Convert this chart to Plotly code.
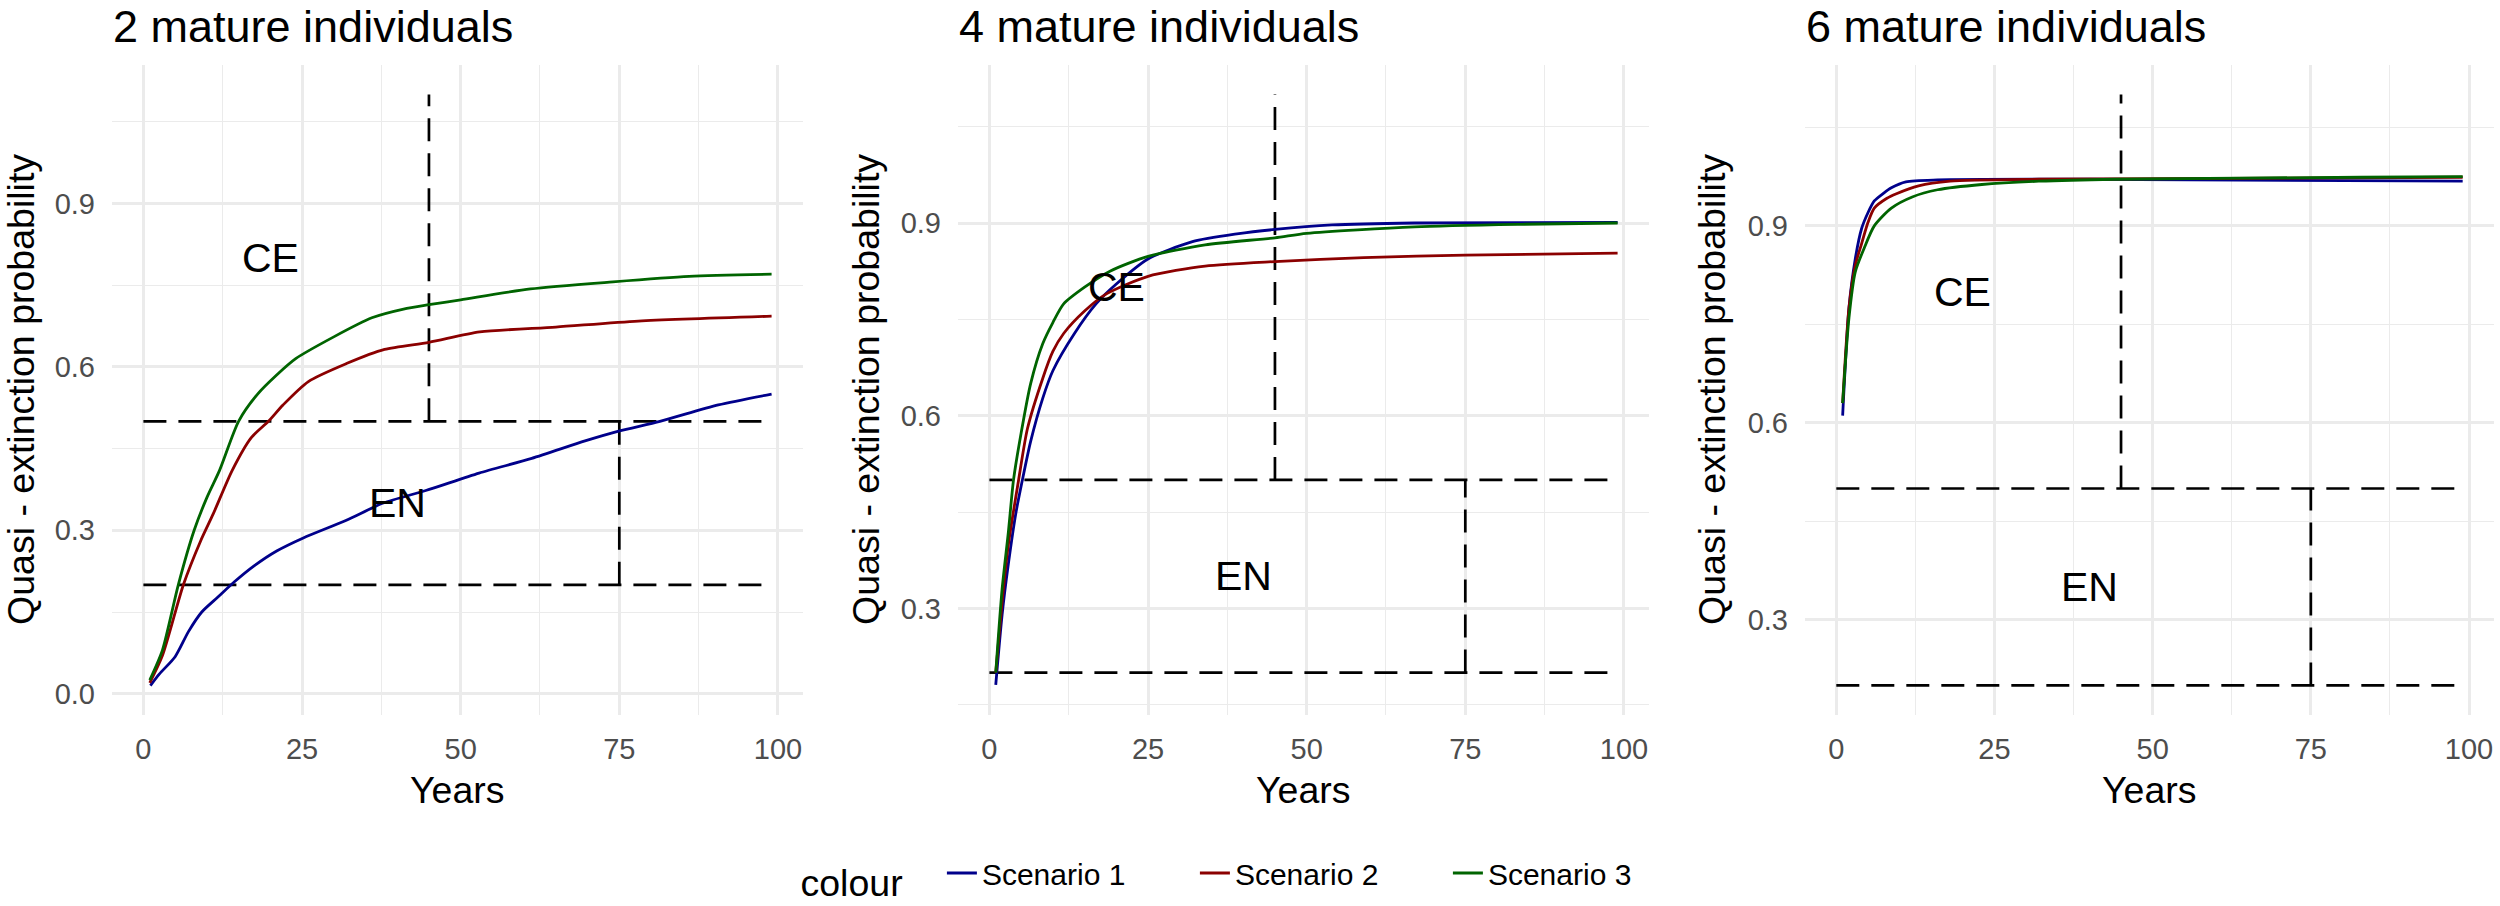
import plotly.graph_objects as go

# panel titles and series names
panels = ["2 mature individuals", "4 mature individuals", "6 mature individuals"]
scenarios = ["Scenario 1", "Scenario 2", "Scenario 3"]
colours = ["#00008B", "#8B0000", "#006400"]

# 2 mature individuals
p1_s1_x = [1.1, 2.5, 5, 7.1, 9.2, 11.7, 14.3, 17.6, 21, 25.2, 31.9, 37.8, 44.5, 52.9, 61.2, 69.6, 74.9, 81.4, 90.6, 99]
p1_s1_y = [0.015, 0.036, 0.068, 0.114, 0.15, 0.177, 0.205, 0.236, 0.262, 0.286, 0.318, 0.35, 0.373, 0.405, 0.432, 0.464, 0.482, 0.5, 0.53, 0.55]
p1_s2_x = [1, 3, 6.3, 9, 11, 14, 17, 19.7, 22, 26, 32, 38, 45, 53, 65, 78, 99]
p1_s2_y = [0.02, 0.07, 0.2, 0.28, 0.33, 0.41, 0.47, 0.5, 0.53, 0.573, 0.606, 0.632, 0.645, 0.664, 0.673, 0.684, 0.693]
p1_s3_x = [1, 3, 5.5, 8, 10, 12, 15, 18, 21, 24, 30, 36, 41, 45, 50, 61, 74, 86, 99]
p1_s3_y = [0.025, 0.08, 0.2, 0.3, 0.36, 0.41, 0.5, 0.55, 0.585, 0.615, 0.655, 0.69, 0.706, 0.714, 0.723, 0.743, 0.756, 0.766, 0.77]

# 4 mature individuals
p2_s1_x = [1, 2, 3, 4.2, 5.2, 6.5, 8.4, 10, 13.4, 16.8, 20, 25, 32, 39, 45, 54, 67, 99]
p2_s1_y = [0.181, 0.29, 0.37, 0.45, 0.5, 0.56, 0.627, 0.67, 0.728, 0.774, 0.805, 0.844, 0.871, 0.883, 0.89, 0.897, 0.9, 0.901]
p2_s2_x = [1, 2, 3, 4.6, 6, 8.4, 10, 11.7, 15, 18.5, 25, 34, 45, 59, 75, 99]
p2_s2_y = [0.2, 0.31, 0.4, 0.5, 0.58, 0.658, 0.7, 0.728, 0.763, 0.79, 0.817, 0.833, 0.84, 0.846, 0.85, 0.853]
p2_s3_x = [1, 2, 3, 3.8, 5, 6.5, 8.4, 10, 11.7, 15, 19, 25, 34, 45, 50, 67, 84, 99]
p2_s3_y = [0.2, 0.33, 0.42, 0.5, 0.573, 0.65, 0.712, 0.745, 0.774, 0.8, 0.825, 0.848, 0.866, 0.877, 0.884, 0.894, 0.898, 0.9]

# 6 mature individuals
p3_s1_x = [1, 2, 3, 4, 5, 6, 7.5, 8.7, 11, 16, 40, 99]
p3_s1_y = [0.611, 0.775, 0.85, 0.896, 0.92, 0.938, 0.95, 0.958, 0.967, 0.97, 0.971, 0.968]
p3_s2_x = [1, 2, 3, 4, 5, 6, 8, 9.5, 13, 18, 32, 99]
p3_s2_y = [0.63, 0.775, 0.84, 0.873, 0.905, 0.927, 0.942, 0.949, 0.961, 0.968, 0.971, 0.974]
p3_s3_x = [1, 2, 3, 4.4, 6, 8.7, 12, 16, 23, 32, 44, 83, 99]
p3_s3_y = [0.63, 0.76, 0.83, 0.866, 0.9, 0.927, 0.944, 0.955, 0.963, 0.968, 0.971, 0.974, 0.975]

curves = [
    [(p1_s1_x, p1_s1_y), (p1_s2_x, p1_s2_y), (p1_s3_x, p1_s3_y)],
    [(p2_s1_x, p2_s1_y), (p2_s2_x, p2_s2_y), (p2_s3_x, p2_s3_y)],
    [(p3_s1_x, p3_s1_y), (p3_s2_x, p3_s2_y), (p3_s3_x, p3_s3_y)],
]

# threshold guides (same in every panel)
ce_limit, en_limit = 0.5, 0.2
ce_year, en_year = 45, 75
x_start, x_end, y_top = 0, 99, 1.1
labels = [("CE", 20, 0.8), ("EN", 40, 0.35)]

y_ranges = [[-0.039, 1.154], [0.134, 1.146], [0.155, 1.145]]
y_ticks = [[0, 0.3, 0.6, 0.9], [0.3, 0.6, 0.9], [0.3, 0.6, 0.9]]
x_ticks = [0, 25, 50, 75, 100]

W, H = 2500, 906
FONT = "Liberation Sans, Arial, sans-serif"
GRID = "#EBEBEB"
x_domains = [[112 / W, 803 / W], [958 / W, 1649 / W], [1805 / W, 2494 / W]]
y_domain = [1 - 715 / H, 1 - 65 / H]
ytitle_x = [21, 866, 1712]

fig = go.Figure()
annotations = []
for i in range(3):
    xa = "x" if i == 0 else "x%d" % (i + 1)
    ya = "y" if i == 0 else "y%d" % (i + 1)
    # dashed threshold guides go underneath the curves
    dash = dict(color="black", width=2.7, dash="23px,12px")
    for seg_x, seg_y in [([x_start, x_end], [ce_limit, ce_limit]),
                         ([x_start, x_end], [en_limit, en_limit]),
                         ([ce_year, ce_year], [ce_limit, y_top]),
                         ([en_year, en_year], [en_limit, ce_limit])]:
        fig.add_trace(go.Scatter(x=seg_x, y=seg_y, mode="lines", line=dash,
                                 showlegend=False, hoverinfo="skip", xaxis=xa, yaxis=ya))
    for j in range(3):
        xs, ys = curves[i][j]
        fig.add_trace(go.Scatter(x=xs, y=ys, mode="lines", name=scenarios[j],
                                 line=dict(color=colours[j], width=2.8, shape="spline", smoothing=0.7),
                                 legendgroup=scenarios[j], showlegend=(i == 0),
                                 xaxis=xa, yaxis=ya))
    for txt, lx, ly in labels:
        annotations.append(dict(text=txt, x=lx, y=ly, xref=xa, yref=ya, showarrow=False,
                                font=dict(family=FONT, size=41, color="black")))
    d = x_domains[i]
    annotations.append(dict(text=panels[i], x=d[0], y=1, xref="paper", yref="paper",
                            xanchor="left", yanchor="top", showarrow=False, borderpad=0,
                            font=dict(family=FONT, size=45, color="black")))
    annotations.append(dict(text="Years", x=(d[0] + d[1]) / 2, y=1 - 790 / H, xref="paper",
                            yref="paper", xanchor="center", yanchor="middle", showarrow=False,
                            font=dict(family=FONT, size=37.5, color="black")))
    annotations.append(dict(text="Quasi - extinction probability", x=ytitle_x[i] / W,
                            y=(y_domain[0] + y_domain[1]) / 2, xref="paper", yref="paper",
                            xanchor="center", yanchor="middle", textangle=-90, showarrow=False,
                            font=dict(family=FONT, size=37.5, color="black")))

    axis_common = dict(showgrid=True, gridcolor=GRID, gridwidth=2.6, zeroline=False,
                       showline=False, ticks="", tickfont=dict(family=FONT, size=29, color="#4D4D4D"))
    fig.layout[("xaxis" if i == 0 else "xaxis%d" % (i + 1))] = dict(
        domain=d, range=[-4.95, 103.95], tickvals=x_ticks, anchor=ya,
        minor=dict(tickvals=[12.5, 37.5, 62.5, 87.5], showgrid=True, gridcolor=GRID, gridwidth=1.3),
        ticklabelstandoff=14, **axis_common)
    yminor = [v for v in [0.15, 0.45, 0.75, 1.05] if y_ranges[i][0] < v < y_ranges[i][1]]
    fig.layout[("yaxis" if i == 0 else "yaxis%d" % (i + 1))] = dict(
        domain=y_domain, range=y_ranges[i], tickvals=y_ticks[i], tickformat=".1f", anchor=xa,
        minor=dict(tickvals=yminor, showgrid=True, gridcolor=GRID, gridwidth=1.3),
        ticklabelstandoff=16, **axis_common)

fig.update_layout(
    width=W, height=H, margin=dict(l=0, r=0, t=0, b=0),
    paper_bgcolor="white", plot_bgcolor="white",
    font=dict(family=FONT, color="black"),
    annotations=annotations,
    legend=dict(orientation="h", x=0.5, xanchor="center", y=0, yanchor="bottom",
                title=dict(text="colour   ", side="left", font=dict(family=FONT, size=37.5)),
                font=dict(family=FONT, size=30),
                entrywidth=208, entrywidthmode="pixels"),
)

fig.write_html("out.html", config={"displayModeBar": False},
               post_script="document.body.style.margin='0';")
